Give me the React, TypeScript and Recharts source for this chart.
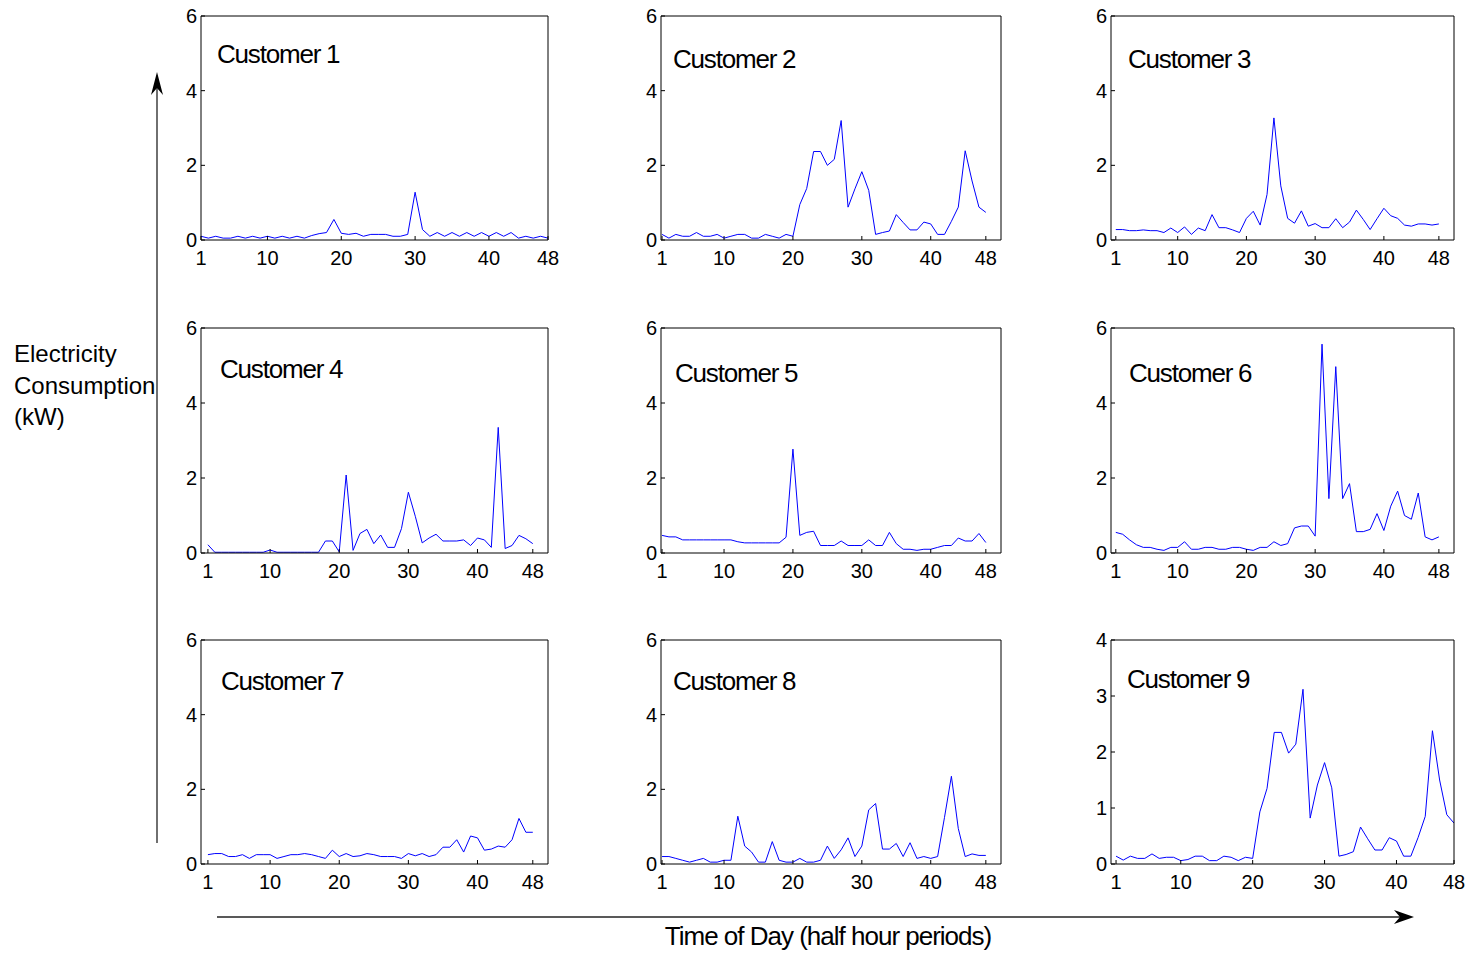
import { LineChart, Line, XAxis, YAxis } from 'recharts';

// half hour periods of the day
const periods = [
  1, 2, 3, 4, 5, 6, 7, 8, 9, 10, 11, 12, 13, 14, 15, 16, 17, 18, 19, 20, 21, 22, 23, 24,
  25, 26, 27, 28, 29, 30, 31, 32, 33, 34, 35, 36, 37, 38, 39, 40, 41, 42, 43, 44, 45, 46, 47, 48,
];

// consumption in kW
const customer1 = [0.1, 0.05, 0.1, 0.05, 0.05, 0.1, 0.05, 0.1, 0.05, 0.1, 0.05, 0.1, 0.05, 0.1, 0.05, 0.12, 0.17, 0.2, 0.55, 0.18, 0.15, 0.18, 0.1, 0.15, 0.15, 0.15, 0.1, 0.1, 0.15, 1.28, 0.28, 0.1, 0.2, 0.1, 0.2, 0.1, 0.2, 0.1, 0.2, 0.1, 0.2, 0.1, 0.2, 0.05, 0.1, 0.05, 0.1, 0.05];
const customer2 = [0.15, 0.05, 0.15, 0.1, 0.1, 0.2, 0.1, 0.1, 0.15, 0.05, 0.1, 0.15, 0.15, 0.05, 0.05, 0.15, 0.1, 0.05, 0.15, 0.1, 0.95, 1.38, 2.37, 2.37, 2.0, 2.16, 3.2, 0.88, 1.37, 1.83, 1.33, 0.15, 0.2, 0.24, 0.68, 0.47, 0.27, 0.27, 0.48, 0.43, 0.15, 0.15, 0.5, 0.88, 2.39, 1.58, 0.88, 0.74];
const customer3 = [0.28, 0.28, 0.25, 0.25, 0.27, 0.25, 0.25, 0.2, 0.32, 0.2, 0.35, 0.15, 0.32, 0.25, 0.68, 0.33, 0.33, 0.27, 0.2, 0.58, 0.77, 0.4, 1.22, 3.27, 1.45, 0.58, 0.45, 0.78, 0.37, 0.44, 0.33, 0.33, 0.57, 0.33, 0.48, 0.8, 0.55, 0.28, 0.57, 0.85, 0.65, 0.58, 0.4, 0.37, 0.43, 0.43, 0.4, 0.43];
const customer4 = [0.22, 0.02, 0.02, 0.02, 0.02, 0.02, 0.02, 0.02, 0.02, 0.08, 0.02, 0.02, 0.02, 0.02, 0.02, 0.02, 0.02, 0.32, 0.32, 0.03, 2.08, 0.07, 0.52, 0.63, 0.25, 0.48, 0.15, 0.15, 0.65, 1.62, 0.98, 0.27, 0.4, 0.5, 0.32, 0.32, 0.32, 0.35, 0.2, 0.4, 0.35, 0.15, 3.35, 0.12, 0.2, 0.47, 0.38, 0.25];
const customer5 = [0.47, 0.43, 0.43, 0.35, 0.35, 0.35, 0.35, 0.35, 0.35, 0.35, 0.35, 0.3, 0.27, 0.27, 0.27, 0.27, 0.27, 0.27, 0.42, 2.77, 0.47, 0.55, 0.58, 0.2, 0.2, 0.2, 0.32, 0.2, 0.2, 0.2, 0.35, 0.2, 0.2, 0.55, 0.25, 0.1, 0.1, 0.07, 0.1, 0.1, 0.15, 0.2, 0.2, 0.4, 0.32, 0.32, 0.52, 0.28];
const customer6 = [0.55, 0.5, 0.35, 0.22, 0.15, 0.15, 0.1, 0.07, 0.15, 0.15, 0.3, 0.1, 0.1, 0.15, 0.15, 0.1, 0.1, 0.15, 0.15, 0.1, 0.07, 0.15, 0.15, 0.3, 0.2, 0.25, 0.67, 0.72, 0.72, 0.45, 5.57, 1.45, 4.97, 1.45, 1.85, 0.57, 0.57, 0.63, 1.05, 0.6, 1.25, 1.65, 1.0, 0.9, 1.6, 0.43, 0.35, 0.43];
const customer7 = [0.25, 0.28, 0.28, 0.2, 0.2, 0.25, 0.15, 0.25, 0.25, 0.25, 0.15, 0.2, 0.25, 0.25, 0.28, 0.25, 0.2, 0.15, 0.37, 0.2, 0.28, 0.2, 0.22, 0.28, 0.25, 0.2, 0.2, 0.2, 0.15, 0.28, 0.22, 0.28, 0.2, 0.25, 0.45, 0.45, 0.65, 0.32, 0.75, 0.7, 0.37, 0.4, 0.48, 0.45, 0.65, 1.22, 0.85, 0.85];
const customer8 = [0.2, 0.2, 0.15, 0.1, 0.05, 0.1, 0.15, 0.05, 0.05, 0.1, 0.1, 1.28, 0.48, 0.32, 0.05, 0.05, 0.6, 0.1, 0.05, 0.05, 0.15, 0.05, 0.05, 0.1, 0.48, 0.15, 0.38, 0.7, 0.2, 0.48, 1.45, 1.62, 0.4, 0.4, 0.55, 0.2, 0.57, 0.15, 0.2, 0.15, 0.2, 1.25, 2.35, 0.95, 0.2, 0.27, 0.23, 0.23];
const customer9 = [0.14, 0.07, 0.14, 0.1, 0.1, 0.18, 0.1, 0.12, 0.12, 0.06, 0.08, 0.14, 0.14, 0.06, 0.06, 0.14, 0.12, 0.06, 0.12, 0.1, 0.93, 1.35, 2.35, 2.35, 1.98, 2.14, 3.12, 0.82, 1.41, 1.81, 1.36, 0.14, 0.17, 0.22, 0.66, 0.45, 0.25, 0.25, 0.47, 0.41, 0.14, 0.14, 0.47, 0.85, 2.38, 1.5, 0.88, 0.73];

const xTicks = [1, 10, 20, 30, 40, 48];
const yTicksSix = [0, 2, 4, 6];
const yTicksFour = [0, 1, 2, 3, 4];

const FONT = '"Liberation Sans", Arial, Helvetica, sans-serif';

// plot boxes in page pixels: [left, top, right, bottom]
const panels = [
  { name: 'Customer 1', values: customer1, box: [201, 16, 548, 240], xDomain: [1, 48], yDomain: [0, 6], yTicks: yTicksSix, label: [217, 63] },
  { name: 'Customer 2', values: customer2, box: [661, 16, 1001, 240], xDomain: [0.85, 50.2], yDomain: [0, 6], yTicks: yTicksSix, label: [673, 68] },
  { name: 'Customer 3', values: customer3, box: [1111, 16, 1454, 240], xDomain: [0.3, 50.2], yDomain: [0, 6], yTicks: yTicksSix, label: [1128, 68] },
  { name: 'Customer 4', values: customer4, box: [201, 328, 548, 553], xDomain: [0, 50.2], yDomain: [0, 6], yTicks: yTicksSix, label: [220, 378] },
  { name: 'Customer 5', values: customer5, box: [661, 328, 1001, 553], xDomain: [0.85, 50.2], yDomain: [0, 6], yTicks: yTicksSix, label: [675, 382] },
  { name: 'Customer 6', values: customer6, box: [1111, 328, 1454, 553], xDomain: [0.3, 50.2], yDomain: [0, 6], yTicks: yTicksSix, label: [1129, 382] },
  { name: 'Customer 7', values: customer7, box: [201, 640, 548, 864], xDomain: [0, 50.2], yDomain: [0, 6], yTicks: yTicksSix, label: [221, 690] },
  { name: 'Customer 8', values: customer8, box: [661, 640, 1001, 864], xDomain: [0.85, 50.2], yDomain: [0, 6], yTicks: yTicksSix, label: [673, 690] },
  { name: 'Customer 9', values: customer9, box: [1111, 640, 1454, 864], xDomain: [0.3, 48], yDomain: [0, 4], yTicks: yTicksFour, label: [1127, 688] },
];

const axisStroke = { stroke: '#000' };
const tickFont = { fill: '#000', fontSize: 20, fontFamily: FONT };

function Panel({ p }: { p: (typeof panels)[number] }) {
  const data = periods.map((t, i) => ({ t, kw: p.values[i] }));
  const [l, t, r, b] = p.box;
  const w = r - l;
  const h = b - t;

  return (
    <div style={{ position: 'absolute', left: l - 40, top: t - 20 }}>
      <LineChart
        width={w + 60}
        height={h + 20 + 35}
        data={data}
        margin={{ top: 19, right: 19, bottom: 0, left: 0 }}
      >
        <XAxis
          dataKey="t"
          type="number"
          domain={p.xDomain}
          ticks={xTicks}
          interval={0}
          allowDataOverflow
          height={35}
          tickSize={-4}
          tickMargin={15}
          axisLine={axisStroke}
          tickLine={axisStroke}
          tick={tickFont}
        />
        <XAxis
          xAxisId="top"
          orientation="top"
          type="number"
          domain={p.xDomain}
          ticks={xTicks}
          interval={0}
          allowDataOverflow
          height={1}
          tickSize={-4}
          tick={false}
          axisLine={axisStroke}
          tickLine={axisStroke}
        />
        <YAxis
          type="number"
          domain={p.yDomain}
          ticks={p.yTicks}
          interval={0}
          allowDataOverflow
          width={40}
          tickSize={-4}
          tickMargin={8}
          axisLine={axisStroke}
          tickLine={axisStroke}
          tick={tickFont}
        />
        <YAxis
          yAxisId="right"
          orientation="right"
          type="number"
          domain={p.yDomain}
          ticks={p.yTicks}
          interval={0}
          allowDataOverflow
          width={1}
          tickSize={-4}
          tick={false}
          axisLine={axisStroke}
          tickLine={axisStroke}
        />
        <Line
          type="linear"
          dataKey="kw"
          stroke="#0000ff"
          strokeWidth={1}
          dot={false}
          activeDot={false}
          isAnimationActive={false}
        />
      </LineChart>
    </div>
  );
}

export default function App() {
  return (
    <div style={{ position: 'absolute', left: 0, top: 0, width: 1468, height: 956, background: '#fff', overflow: 'hidden' }}>
      {panels.map((p) => (
        <Panel key={p.name} p={p} />
      ))}

      {/* labels and the two arrows */}
      <svg
        width={1468}
        height={956}
        style={{ position: 'absolute', left: 0, top: 0, pointerEvents: 'none' }}
        fontFamily={FONT}
      >
        {panels.map((p) => (
          <text key={p.name} x={p.label[0]} y={p.label[1]} fontSize={26} letterSpacing={-1.2} fill="#000">
            {p.name}
          </text>
        ))}

        <text x={14} y={362} fontSize={24} fill="#000">Electricity</text>
        <text x={14} y={394} fontSize={24} fill="#000">Consumption</text>
        <text x={14} y={425} fontSize={24} fill="#000">(kW)</text>

        <text x={828} y={945} fontSize={26} letterSpacing={-1} textAnchor="middle" fill="#000">
          Time of Day (half hour periods)
        </text>

        <line x1={157} y1={843} x2={157} y2={84} stroke="#222" strokeWidth={1.3} />
        <path d="M157,72 L163,95 L157,88 L151,95 Z" fill="#000" />

        <line x1={217} y1={917} x2={1402} y2={917} stroke="#222" strokeWidth={1.3} />
        <path d="M1414,917 L1394,910 L1400,917 L1394,924 Z" fill="#000" />
      </svg>
    </div>
  );
}
